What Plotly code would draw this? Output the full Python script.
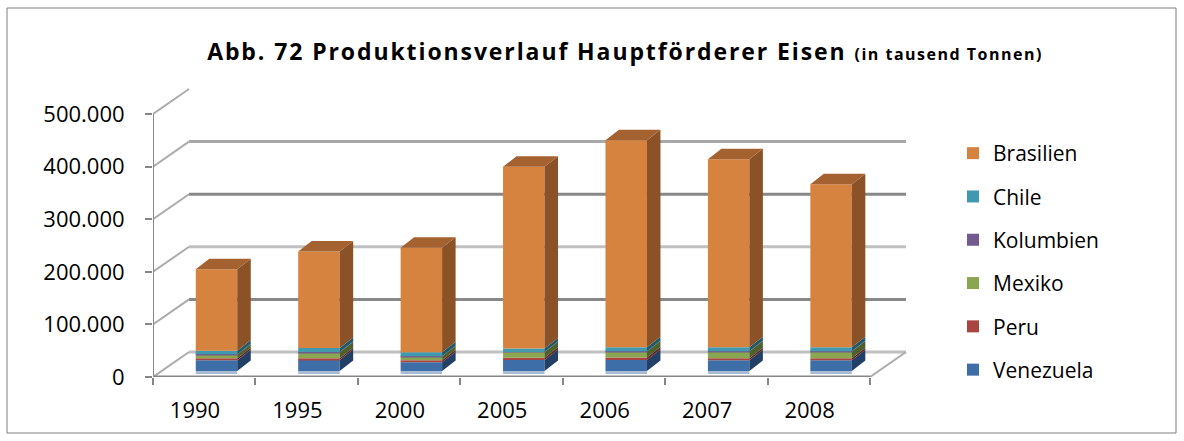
import numpy as np
import plotly.graph_objects as go

# ---- data (tausend Tonnen) -------------------------------------------------
years = ["1990", "1995", "2000", "2005", "2006", "2007", "2008"]
venezuela = [20300, 20900, 16500, 20900, 20900, 20300, 20300]
peru = [3800, 3400, 3800, 4400, 5000, 3800, 3800]
mexiko = [7000, 11000, 7200, 10400, 11000, 12800, 12900]
kolumbien = [600, 600, 700, 600, 700, 700, 600]
chile = [7000, 7600, 7600, 6600, 7600, 7600, 7600]
brasilien = [154600, 183800, 198300, 345400, 393500, 357400, 309900]

y_ticks = [0, 100000, 200000, 300000, 400000, 500000]

# stacking order bottom -> top
series = [
    ("Venezuela", venezuela, "#3d6ea7", "#223f66"),
    ("Peru", peru, "#aa4441", "#682423"),
    ("Mexiko", mexiko, "#8aa650", "#4e612d"),
    ("Kolumbien", kolumbien, "#72598f", "#3f2f55"),
    ("Chile", chile, "#4199b0", "#215a6a"),
    ("Brasilien", brasilien, "#d6833f", "#8a5226"),
]
TOP_FACE = "#a3622f"
BOTTOM_STRIP = "#a9bcd6"

# ---- geometry of the pseudo-3D layout -------------------------------------
W, H = 1184, 441
PX_LEFT = 153            # front-left corner of the floor
PX_ZERO = 377            # pixel row of value 0 on the front axis
PX_500 = 114             # pixel row of 500.000 on the front axis
N = len(years)
X_UNIT = (870 - PX_LEFT) / N          # pixels per category
Y_UNIT = (PX_ZERO - PX_500) / 500000  # pixels per tonne-unit

X_MIN, X_MAX = -0.5, 7.0
Y_MIN, Y_MAX = 0, 600000

px_right = PX_LEFT + (X_MAX - X_MIN) * X_UNIT
px_top = PX_ZERO - (Y_MAX - Y_MIN) * Y_UNIT


def dx(px):
    return px / X_UNIT


def dy(px):
    return px / Y_UNIT


FLOOR_DX, FLOOR_DY = dx(36), dy(25)     # depth of floor / back wall
BAR_DX, BAR_DY = dx(13.5), dy(10.5)     # depth of one column
BAR_LIFT = dy(6)                        # columns stand slightly behind the front edge
BAR_W = 0.405
BAR_SHIFT = 0.12
LABEL_SHIFT = -0.09

xpos = np.arange(N) + BAR_SHIFT

fig = go.Figure()
shapes = []

# back wall grid lines
grid_cols = ["#c0c0c0", "#888888", "#c0c0c0", "#888888", "#a8a8a8"]
for lvl, col in zip(y_ticks[:-1], grid_cols):
    shapes.append(dict(type="line", xref="x", yref="y", layer="below",
                       x0=-0.5 + FLOOR_DX, x1=N - 0.5 + FLOOR_DX,
                       y0=lvl + FLOOR_DY, y1=lvl + FLOOR_DY,
                       line=dict(color=col, width=3)))
# side wall / floor diagonals
for lvl in y_ticks:
    shapes.append(dict(type="line", xref="x", yref="y", layer="below",
                       x0=-0.5, x1=-0.5 + FLOOR_DX, y0=lvl, y1=lvl + FLOOR_DY,
                       line=dict(color="#acacac", width=2)))
shapes.append(dict(type="line", xref="x", yref="y", layer="below",
                   x0=N - 0.5, x1=N - 0.5 + FLOOR_DX, y0=0, y1=FLOOR_DY,
                   line=dict(color="#acacac", width=2)))
# front axis lines
shapes.append(dict(type="line", xref="x", yref="y", layer="above",
                   x0=-0.5, x1=-0.5, y0=0, y1=y_ticks[-1],
                   line=dict(color="#868686", width=2)))
shapes.append(dict(type="line", xref="x", yref="y", layer="above",
                   x0=-0.5, x1=N - 0.5, y0=0, y1=0,
                   line=dict(color="#868686", width=3)))

# stacked columns with their right-hand side faces
base = np.full(N, BAR_LIFT)
n_series = len(series)
for k, (name, vals, front, side) in enumerate(series):
    vals = np.asarray(vals, dtype=float)
    fig.add_trace(go.Bar(
        x=xpos, y=vals, base=base, width=BAR_W, name=name,
        legendgroup=name, legendrank=n_series - k,
        marker=dict(color=front, line=dict(width=0)),
        hovertemplate=name + " %{text}: %{y:,.0f}<extra></extra>",
        text=years, textposition="none",
    ))
    for i in range(N):
        xr = xpos[i] + BAR_W / 2
        b, t = base[i], base[i] + vals[i]
        path = (f"M {xr},{b} L {xr + BAR_DX},{b + BAR_DY} "
                f"L {xr + BAR_DX},{t + BAR_DY} L {xr},{t} Z")
        shapes.append(dict(type="path", xref="x", yref="y", layer="above",
                           path=path, fillcolor=side, line=dict(width=0)))
    base = base + vals

# top faces of the columns and light bottom edge
for i in range(N):
    xl, xr = xpos[i] - BAR_W / 2, xpos[i] + BAR_W / 2
    t = base[i]
    path = (f"M {xl},{t} L {xl + BAR_DX},{t + BAR_DY} "
            f"L {xr + BAR_DX},{t + BAR_DY} L {xr},{t} Z")
    shapes.append(dict(type="path", xref="x", yref="y", layer="above",
                       path=path, fillcolor=TOP_FACE, line=dict(width=0)))
    shapes.append(dict(type="rect", xref="x", yref="y", layer="above",
                       x0=xl, x1=xr, y0=BAR_LIFT / 2, y1=BAR_LIFT,
                       fillcolor=BOTTOM_STRIP, line=dict(width=0)))

# chart frame
shapes.append(dict(type="rect", xref="paper", yref="paper", layer="above",
                   x0=7 / W, x1=1176 / W, y0=1 - 433 / H, y1=1 - 8 / H,
                   line=dict(color="#7f7f7f", width=1), fillcolor="rgba(0,0,0,0)"))

FONT = "Open Sans"
tick_text = [f"{v:,}".replace(",", ".") for v in y_ticks]

fig.update_layout(
    width=W, height=H,
    margin=dict(l=0, r=0, t=0, b=0, autoexpand=False),
    paper_bgcolor="white", plot_bgcolor="rgba(0,0,0,0)",
    barmode="overlay",
    font=dict(family=FONT, size=22, color="#000000"),
    title=dict(
        text=("<b><span style='letter-spacing:1.9px'>Abb. 72 Produktionsverlauf "
              "Hauptförderer Eisen </span>"
              "<span style='font-size:16px;letter-spacing:1.5px'>(in tausend Tonnen)</span></b>"),
        x=625 / W, xanchor="center", xref="paper",
        y=1 - 52 / H, yanchor="middle", yref="container",
        font=dict(family=FONT, size=23, color="#000000"),
    ),
    xaxis=dict(
        domain=[PX_LEFT / W, px_right / W], range=[X_MIN, X_MAX],
        tickmode="array", tickvals=list(np.arange(N) + LABEL_SHIFT), ticktext=years,
        ticks="", showgrid=False, zeroline=False, showline=False,
        ticklabelstandoff=18, automargin=False,
        minor=dict(tickmode="array", tickvals=[k - 0.5 for k in range(N + 1)],
                   ticks="outside", ticklen=7, tickcolor="#868686", tickwidth=2,
                   showgrid=False),
    ),
    yaxis=dict(
        domain=[1 - PX_ZERO / H, 1 - px_top / H], range=[Y_MIN, Y_MAX],
        tickmode="array", tickvals=y_ticks, ticktext=tick_text,
        ticks="outside", ticklen=7, tickcolor="#868686", tickwidth=2,
        ticklabelstandoff=16, automargin=False,
        showgrid=False, zeroline=False, showline=False,
    ),
    legend=dict(
        x=953 / W, xanchor="left", y=1 - 133 / H, yanchor="top",
        traceorder="grouped", tracegroupgap=13,
        font=dict(family=FONT, size=21), bgcolor="rgba(0,0,0,0)",
    ),
    shapes=shapes,
)

fig.write_html("out.html")
